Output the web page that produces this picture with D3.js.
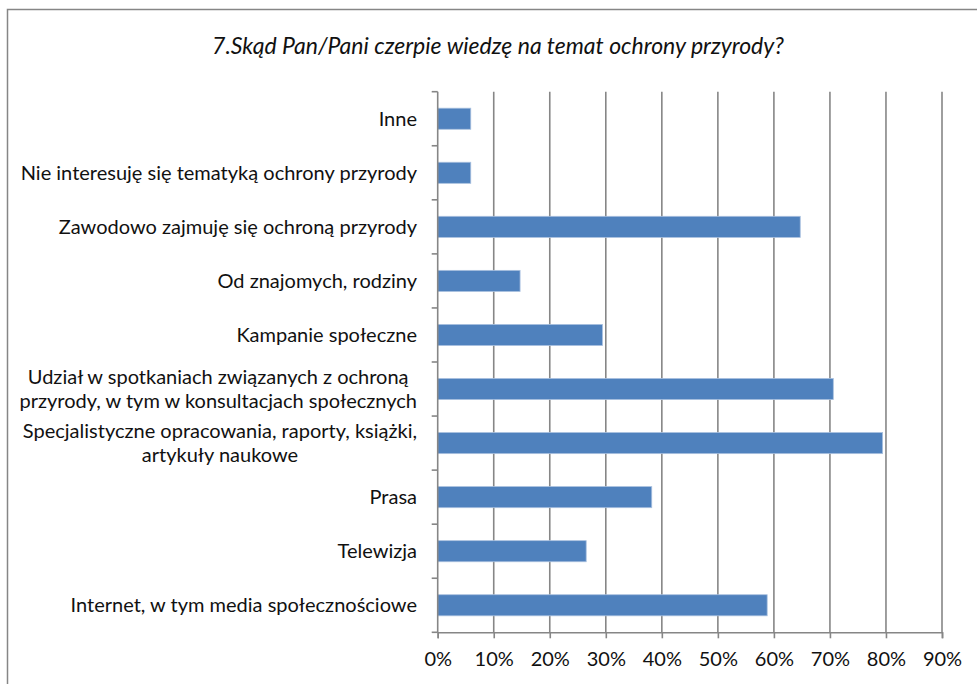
<!DOCTYPE html>
<html>
<head>
<meta charset="utf-8">
<script src="https://cdn.jsdelivr.net/npm/d3@7"></script>
<style>
  body { margin: 0; background: #fff; }
  svg { display: block; font-family: Lato, "Open Sans", sans-serif; }
</style>
</head>
<body>
<svg></svg>
<script>
// categories top to bottom, as in the chart
const categories = [
  "Inne",
  "Nie interesuję się tematyką ochrony przyrody",
  "Zawodowo zajmuję się ochroną przyrody",
  "Od znajomych, rodziny",
  "Kampanie społeczne",
  "Udział w spotkaniach związanych z ochroną|przyrody, w tym w konsultacjach społecznych",
  "Specjalistyczne opracowania, raporty, książki,|artykuły naukowe",
  "Prasa",
  "Telewizja",
  "Internet, w tym media społecznościowe"
]
const values = [0.059, 0.059, 0.647, 0.147, 0.294, 0.706, 0.794, 0.382, 0.265, 0.588]
const ticks = [0, 0.1, 0.2, 0.3, 0.4, 0.5, 0.6, 0.7, 0.8, 0.9]
const title = "7.Skąd Pan/Pani czerpie wiedzę na temat ochrony przyrody?"

const svg = d3.select("svg").attr("width", 977).attr("height", 684)
const grey = "#868686"

// outer chart border (runs off the right/bottom edge)
svg.append("rect")
  .attr("x", 7.5).attr("y", 9.5)
  .attr("width", 1000).attr("height", 700)
  .attr("fill", "#fff")
  .attr("stroke", grey).attr("stroke-width", 1.5)

svg.append("text")
  .attr("x", 498).attr("y", 54)
  .attr("text-anchor", "middle")
  .style("font-style", "italic")
  .style("font-size", "23px")
  .attr("fill", "#111")
  .text(title)

const x = d3.scaleLinear().domain([0, 0.9]).range([437.7, 942])
const y = d3.scaleBand().domain(categories).range([91.7, 632.3])
  .paddingInner(0.61).paddingOuter(0.305)

// vertical gridlines
svg.append("g")
  .selectAll("line")
  .data(ticks.slice(1))
  .join("line")
  .attr("x1", d => x(d)).attr("x2", d => x(d))
  .attr("y1", 91.7).attr("y2", 632.3)
  .attr("stroke", grey).attr("stroke-width", 1.6)

// bars
svg.append("g")
  .selectAll("rect")
  .data(values)
  .join("rect")
  .attr("x", x(0))
  .attr("y", (d, i) => y(categories[i]))
  .attr("width", d => x(d) - x(0))
  .attr("height", y.bandwidth())
  .attr("fill", "#4f81bd")
  .attr("stroke", "#a9c0df").attr("stroke-width", 0.8)

// x axis
const xAxis = svg.append("g")
  .attr("transform", "translate(0,632.3)")
  .call(d3.axisBottom(x).tickValues(ticks).tickFormat(d3.format(".0%")).tickSize(6).tickPadding(14))
xAxis.select(".domain").attr("stroke", grey).attr("stroke-width", 1.6)
xAxis.selectAll(".tick line").attr("stroke", grey).attr("stroke-width", 1.6)
xAxis.selectAll(".tick text")
  .attr("fill", "#111")
  .style("font-size", "20px")
  .style("font-family", "Lato, sans-serif")

// y axis line + ticks at band boundaries
const y0 = y.range()[0]
svg.append("line")
  .attr("x1", x(0)).attr("x2", x(0))
  .attr("y1", y0).attr("y2", y.range()[1])
  .attr("stroke", grey).attr("stroke-width", 1.6)
svg.append("g")
  .selectAll("line")
  .data(d3.range(categories.length + 1))
  .join("line")
  .attr("x1", x(0) - 6).attr("x2", x(0))
  .attr("y1", i => y0 + i * y.step()).attr("y2", i => y0 + i * y.step())
  .attr("stroke", grey).attr("stroke-width", 1.6)

// category labels (wrapped ones centred on each other, right aligned as a block)
const labelRight = 417
const lineH = 24
categories.forEach((c, i) => {
  const lines = c.split("|")
  const cy = y(c) + y.bandwidth() / 2
  const g = svg.append("g")
  const texts = lines.map((l, j) => g.append("text")
    .attr("y", cy + (j - (lines.length - 1) / 2) * lineH)
    .attr("dy", "0.35em")
    .style("font-size", "20px")
    .attr("fill", "#111")
    .text(l))
  const maxW = d3.max(texts, t => t.node().getComputedTextLength())
  texts.forEach(t => t.attr("x", labelRight - maxW / 2).attr("text-anchor", "middle"))
})
</script>
</body>
</html>
